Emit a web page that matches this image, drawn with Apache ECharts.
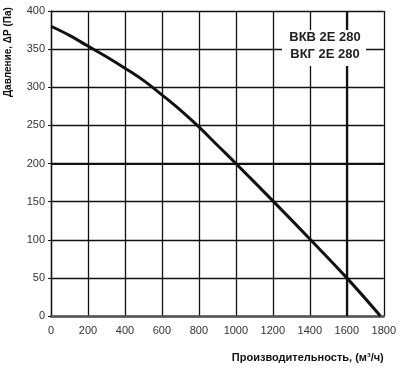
<!DOCTYPE html>
<html><head><meta charset="utf-8">
<script src="https://cdn.jsdelivr.net/npm/echarts@6/dist/echarts.min.js"></script>
<style>html,body{margin:0;padding:0;background:#fff}#c{width:399px;height:372px}</style>
</head><body><div id="c"></div>
<script>
var flowValues = [0, 100, 200, 300, 400, 500, 600, 700, 800, 900, 1000, 1200, 1400, 1600, 1782];
var pressureValues = [380, 368, 354, 340, 325, 309, 290, 270, 248, 224, 200, 151, 101, 50, 0];
var xTicks = [0, 200, 400, 600, 800, 1000, 1200, 1400, 1600, 1800];
var yTicks = [0, 50, 100, 150, 200, 250, 300, 350, 400];
var legendLines = ['ВКВ 2Е 280', 'ВКГ 2Е 280'];
var workPoint = [1600, 200];
var xName = 'Производительность, (м³/ч)';
var yName = 'Давление, ΔР (Па)';

var chart = echarts.init(document.getElementById('c'));
var font = 'Liberation Sans, Arial, sans-serif';
chart.setOption({
  animation: false,
  grid: {left: 51, right: 14, top: 11, bottom: 56},
  xAxis: {
    type: 'value', min: xTicks[0], max: xTicks[xTicks.length-1], interval: 200,
    axisLine: {lineStyle: {color: '#555', width: 2.5}},
    axisTick: {show: false},
    axisLabel: {color: '#333', fontSize: 11, fontFamily: font, margin: 9, formatter: function(v){ return String(v); }},
    splitLine: {lineStyle: {color: '#111', width: 1.3}},
    name: xName, nameLocation: 'end', nameGap: 0,
    nameTextStyle: {fontSize: 11, fontWeight: 'bold', fontFamily: font, color: '#111', align: 'right', verticalAlign: 'top', padding: [36, 0, 0, 0]}
  },
  yAxis: {
    type: 'value', min: yTicks[0], max: yTicks[yTicks.length-1], interval: 50,
    axisLine: {lineStyle: {color: '#111', width: 1.3}},
    axisTick: {show: true, length: 3, lineStyle: {color: '#111'}},
    axisLabel: {color: '#333', fontSize: 11, fontFamily: font, margin: 6, formatter: function(v){ return String(v); }},
    splitLine: {lineStyle: {color: '#111', width: 1.3}}
  },
  graphic: [
    {type: 'text', rotation: Math.PI/2, position: [3, 97], z: 100, style: {text: yName, font: 'bold 10px ' + font, fill: '#111'}},
    {type: 'rect', z: 100, shape: {x: 282, y: 30, width: 84, height: 36}, style: {fill: '#fff'}},
    {type: 'text', z: 101, style: {text: legendLines.join('\n'), x: 325, y: 46, align: 'center', verticalAlign: 'middle', font: 'bold 13px ' + font, fill: '#222', lineHeight: 17}}
  ],
  series: [{
    type: 'line', data: flowValues.map(function(v, i){ return [v, pressureValues[i]]; }),
    smooth: 0.4, showSymbol: false,
    lineStyle: {color: '#111', width: 3},
    markLine: {
      silent: true, symbol: 'none', label: {show: false},
      lineStyle: {color: '#111', width: 2.2, type: 'solid'},
      data: [{yAxis: workPoint[1]}, {xAxis: workPoint[0]}]
    }
  }]
});
</script></body></html>
